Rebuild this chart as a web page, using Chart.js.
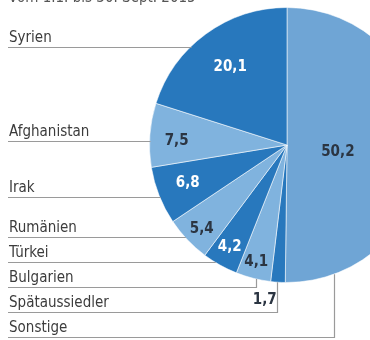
<!DOCTYPE html>
<html>
<head>
<meta charset="utf-8">
<script src="https://cdn.jsdelivr.net/npm/chart.js@4.4.1/dist/chart.umd.min.js"></script>
<style>
  html, body { margin: 0; padding: 0; background: #fff; overflow: hidden; }
  #wrap { width: 430px; height: 340px; }
</style>
</head>
<body>
<div id="wrap"><canvas id="pie_herkunft" width="430" height="340"></canvas></div>
<script>
// Herkunft der Asylsuchenden, Anteile in Prozent
var categories = ['Sonstige', 'Spätaussiedler', 'Bulgarien', 'Türkei', 'Rumänien', 'Irak', 'Afghanistan', 'Syrien'];
var shares = [50.2, 1.7, 4.1, 4.2, 5.4, 6.8, 7.5, 20.1];
var subtitle = 'vom 1.1. bis 30. Sept. 2015';

var DARK = '#2878bd', LIGHT = '#80b3de', BIG = '#6fa5d5';
var sliceColors = [BIG, DARK, LIGHT, DARK, LIGHT, DARK, LIGHT, DARK];
var valueColors = ['#2b3542', '#2b3542', '#2b3542', '#ffffff', '#2b3542', '#ffffff', '#2b3542', '#ffffff'];

// y der Unterstreichung links, x der senkrechten Linie (nur unten)
var lineY = [337, 312, 287, 262, 237, 197, 141, 47];
var lineX = [334, 277, 256, null, null, null, null, null];
// Lage der Zahlen: Anteil vom Radius, Versatz
var valuePos = [[0.37, 0, 7], [1.13, -12, 0], [0.88, -1, 0], [0.855, 0, -1], [0.855, 0, 3], [0.80, 3, -2], [0.79, -2, 4], [0.70, 0, 0]];

function fmt(v) { return String(v).replace('.', ','); }

var labelPlugin = {
    id: 'labelPlugin',
    afterDraw: function(chart) {
        var ctx = chart.ctx;
        var arcs = chart.getDatasetMeta(0).data;
        var cx = arcs[0].x, cy = arcs[0].y, r = arcs[0].outerRadius;

        ctx.save();
        // Untertitel, oben abgeschnitten
        ctx.fillStyle = '#555';
        ctx.font = '15px "DejaVu Sans Condensed", sans-serif';
        ctx.textAlign = 'left';
        ctx.textBaseline = 'alphabetic';
        ctx.fillText(subtitle, 9, 2);

        // Kategorien mit Linien
        ctx.strokeStyle = '#9a9a9a';
        ctx.lineWidth = 1.2;
        categories.forEach(function(name, i) {
            var y = lineY[i];
            ctx.fillStyle = '#3c3c3c';
            ctx.fillText(name, 9, y - 5);
            ctx.beginPath();
            ctx.moveTo(8, y + 0.5);
            if (lineX[i] !== null) {
                var vx = lineX[i];
                var ey = cy + Math.sqrt(Math.max(r * r - (vx - cx) * (vx - cx), 0));
                ctx.lineTo(vx + 0.5, y + 0.5);
                ctx.lineTo(vx + 0.5, ey);
            } else {
                var dy = y - cy;
                var ex = cx - Math.sqrt(Math.max(r * r - dy * dy, 0));
                ctx.lineTo(ex + 1, y + 0.5);
            }
            ctx.stroke();
        });

        // Werte
        ctx.font = 'bold 15px "DejaVu Sans Condensed", sans-serif';
        ctx.textAlign = 'center';
        ctx.textBaseline = 'middle';
        arcs.forEach(function(arc, i) {
            var mid = (arc.startAngle + arc.endAngle) / 2;
            var p = valuePos[i];
            var x = cx + Math.cos(mid) * r * p[0] + p[1];
            var y = cy + Math.sin(mid) * r * p[0] + p[2];
            ctx.fillStyle = valueColors[i];
            ctx.fillText(fmt(shares[i]), x, y);
        });
        ctx.restore();
    }
};

new Chart(document.getElementById('pie_herkunft').getContext('2d'), {
    type: 'pie',
    data: {
        labels: categories,
        datasets: [{
            data: shares,
            backgroundColor: sliceColors,
            borderColor: 'rgba(255,255,255,0.55)',
            borderWidth: 1
        }]
    },
    options: {
        responsive: false,
        animation: false,
        layout: { padding: { left: 149, top: 7, right: 5, bottom: 57 } },
        plugins: {
            legend: { display: false },
            tooltip: { enabled: false }
        }
    },
    plugins: [labelPlugin]
});
</script>
</body>
</html>
